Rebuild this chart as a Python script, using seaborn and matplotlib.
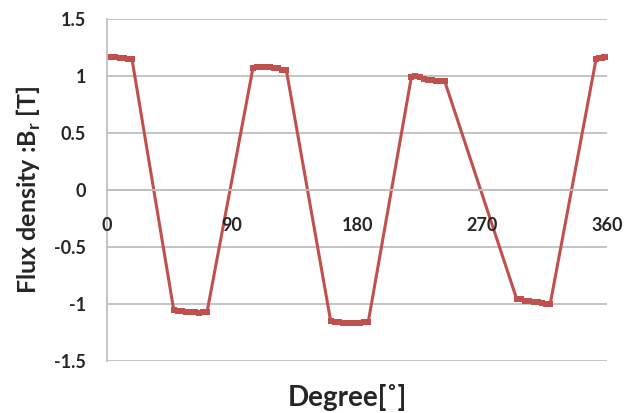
import matplotlib
matplotlib.use("Agg")
import matplotlib.pyplot as plt
import seaborn as sns

# values (degree vs. radial flux density)
degree = [0, 3, 6, 9, 12, 15, 18,
          48, 51, 54, 57, 60, 63, 66, 69, 72,
          105, 108, 111, 114, 117, 120, 123, 126, 129,
          161, 164, 167, 170, 173, 176, 179, 182, 185, 188,
          219, 222, 225, 228, 231, 234, 237, 240, 243,
          295, 298, 301, 304, 307, 310, 313, 316, 319,
          352, 354, 356, 358, 360]
flux = [1.17, 1.17, 1.17, 1.16, 1.16, 1.15, 1.15,
        -1.05, -1.06, -1.06, -1.07, -1.07, -1.07, -1.08, -1.07, -1.07,
        1.07, 1.08, 1.08, 1.08, 1.08, 1.07, 1.07, 1.06, 1.06,
        -1.15, -1.16, -1.16, -1.17, -1.17, -1.17, -1.17, -1.17, -1.16, -1.16,
        0.99, 1.00, 0.99, 0.98, 0.97, 0.97, 0.96, 0.96, 0.96,
        -0.96, -0.96, -0.97, -0.97, -0.98, -0.98, -0.99, -1.00, -1.00,
        1.15, 1.16, 1.16, 1.17, 1.17]
x_ticks = [0, 90, 180, 270, 360]
y_ticks = [-1.5, -1, -0.5, 0, 0.5, 1, 1.5]
y_tick_labels = ["-1.5", "-1", "-0.5", "0", "0.5", "1", "1.5"]

sns.set_style("white")
plt.rcParams['font.family'] = ['Lato', 'DejaVu Sans']
plt.rcParams['font.weight'] = 'bold'
plt.rcParams['mathtext.fontset'] = 'custom'
plt.rcParams['mathtext.bf'] = 'Lato:bold'
plt.rcParams['mathtext.rm'] = 'Lato:bold'

grid_col = "#BFBFBF"
red = "#C0504D"

fig = plt.figure(figsize=(6.24, 4.13), dpi=100)
ax = fig.add_axes([0.1715, 0.126, 0.8015, 0.827])

sns.lineplot(x=degree, y=flux, estimator=None, sort=False, color=red,
             linewidth=2.2, marker='s', markersize=4.5, markeredgewidth=0,
             ax=ax)

ax.set_xlim(0, 360)
ax.set_ylim(-1.5, 1.5)
ax.set_xticks(x_ticks)
ax.set_yticks(y_ticks)
ax.set_yticklabels(y_tick_labels)

ax.yaxis.grid(True, color=grid_col, linewidth=1.3)
ax.xaxis.grid(False)
ax.set_axisbelow(True)
# x tick labels sit on top of the curve, as in the Excel original
ax.xaxis.set_zorder(3)

for side in ['top', 'right']:
    ax.spines[side].set_visible(False)
ax.spines['bottom'].set_position(('data', 0))
for side in ['left', 'bottom']:
    ax.spines[side].set_color(grid_col)
    ax.spines[side].set_linewidth(1.3)

ax.tick_params(axis='x', direction='out', length=4, width=1.2, color=grid_col,
               pad=15, labelsize=13)
ax.tick_params(axis='y', direction='out', length=5, width=1.2, color=grid_col,
               pad=10, labelsize=13)
for lab in ax.get_xticklabels() + ax.get_yticklabels():
    lab.set_fontweight('bold')

ax.set_ylabel(r"Flux density :B$_\mathbf{r}$ [T]", fontsize=18, fontweight='bold')
ax.yaxis.set_label_coords(-0.128, 0.5)
ax.set_xlabel("Degree[˚]", fontsize=20, fontweight='bold')
ax.xaxis.set_label_coords(0.48, -0.068)

fig.savefig("out.png", dpi=100)
